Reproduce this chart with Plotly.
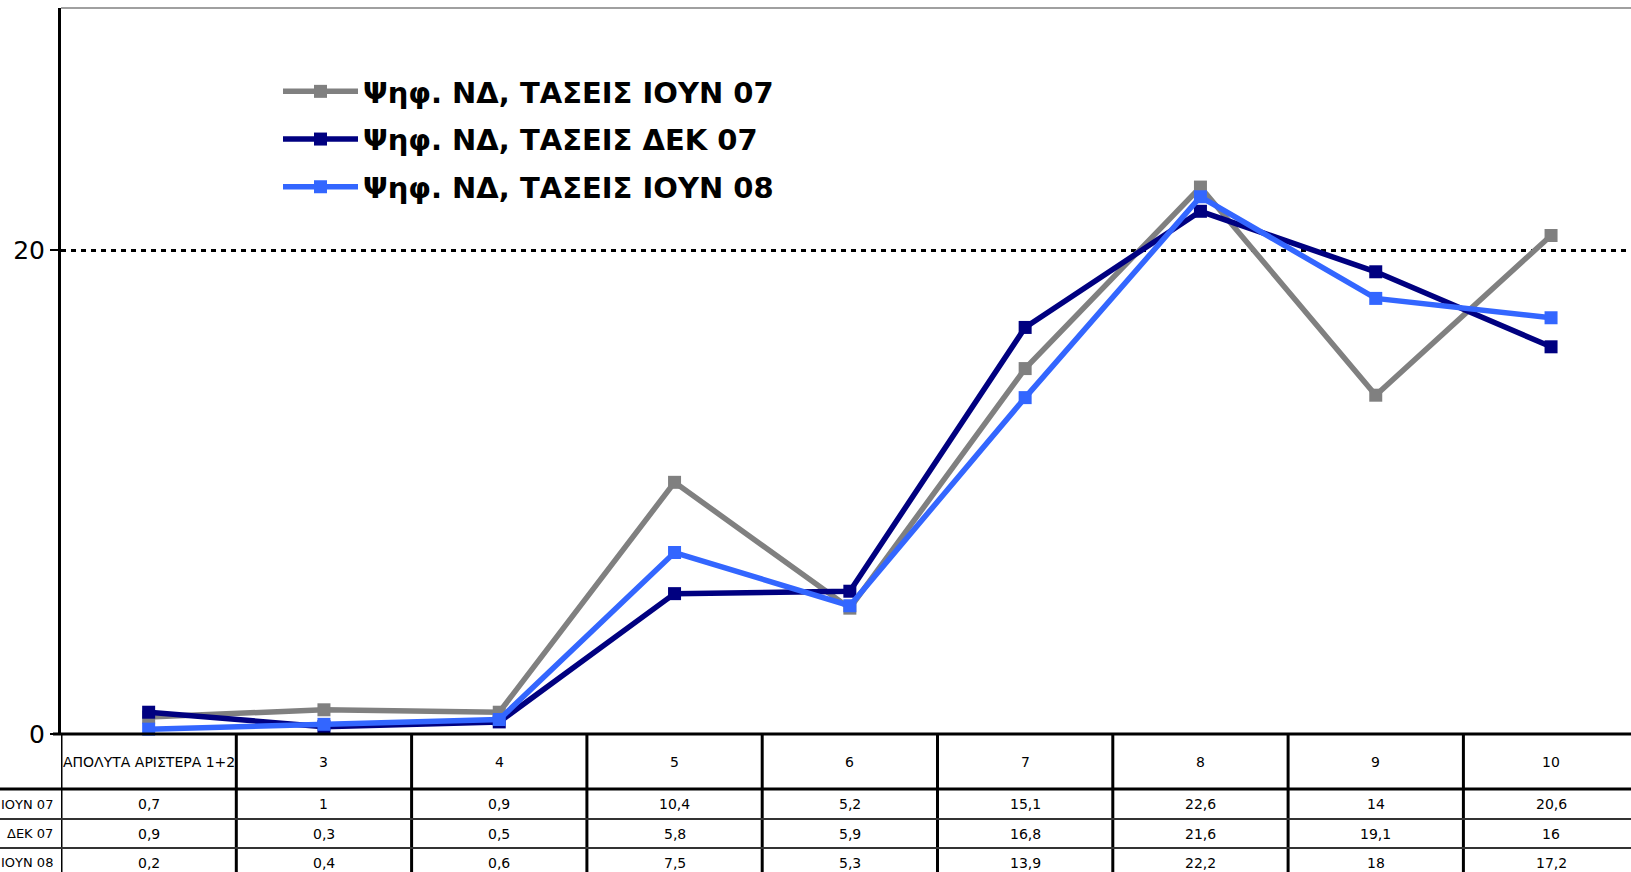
import plotly.graph_objects as go

categories = ["ΑΠΟΛΥΤΑ ΑΡΙΣΤΕΡΑ 1+2", "3", "4", "5", "6", "7", "8", "9", "10"]
series_names = ["Ψηφ. ΝΔ, ΤΑΣΕΙΣ ΙΟΥΝ 07", "Ψηφ. ΝΔ, ΤΑΣΕΙΣ ΔΕΚ 07", "Ψηφ. ΝΔ, ΤΑΣΕΙΣ ΙΟΥΝ 08"]
row_labels = ["ΙΟΥΝ 07", "ΔΕΚ 07", "ΙΟΥΝ 08"]
iun07 = [0.7, 1, 0.9, 10.4, 5.2, 15.1, 22.6, 14, 20.6]
dek07 = [0.9, 0.3, 0.5, 5.8, 5.9, 16.8, 21.6, 19.1, 16]
iun08 = [0.2, 0.4, 0.6, 7.5, 5.3, 13.9, 22.2, 18, 17.2]
colors = ["#808080", "#000080", "#3366FF"]
y_ticks = [0, 20]

series = [iun07, dek07, iun08]
xs = list(range(len(categories)))

W, H = 1631, 872
ML, MT, MB = 61, 8, 138
plot_w = W - ML
plot_h = H - MT - MB
col_w = 175.3
x_right = plot_w / col_w - 0.5

def py(pix):
    return (H - MB - pix) / plot_h

def px(pix):
    return (pix - ML) / plot_w

fig = go.Figure()
for k, (name, vals, c) in enumerate(zip(series_names, series, colors)):
    fig.add_trace(go.Scatter(
        x=xs, y=vals, name=name, mode="lines+markers", legendgroup=f"g{k}",
        line=dict(color=c, width=5.5),
        marker=dict(symbol="square", size=13, color=c),
        cliponaxis=False,
    ))

shapes = []
# top border
shapes.append(dict(type="line", xref="paper", yref="paper", x0=0, x1=1, y0=1, y1=1,
                   line=dict(color="#A0A0A0", width=2)))
# table vertical lines
for i in range(len(categories) + 1):
    shapes.append(dict(type="line", xref="x", yref="paper", x0=i - 0.5, x1=i - 0.5,
                       y0=0, y1=py(H + 10), line=dict(color="black", width=3)))
# table horizontal lines
row_lines = [(789, 3, "black"), (819, 2, "#333333"), (848, 2, "#333333")]
for pix, w, c in row_lines:
    shapes.append(dict(type="line", xref="paper", yref="paper", x0=px(0), x1=1,
                       y0=py(pix), y1=py(pix), line=dict(color=c, width=w)))
# x axis line
shapes.append(dict(type="line", xref="paper", yref="paper", x0=px(53), x1=1, y0=0, y1=0,
                   line=dict(color="black", width=3)))

annotations = []
tfont = dict(family="DejaVu Sans", size=14, color="black")
lfont = dict(family="DejaVu Sans", size=13, color="black")
for i, cat in enumerate(categories):
    annotations.append(dict(x=i, y=py(761.5), xref="x", yref="paper", text=cat,
                            showarrow=False, font=tfont, xanchor="center", yanchor="middle"))
row_centers = [804, 833.5, 862.5]
for lab, vals, rc in zip(row_labels, series, row_centers):
    annotations.append(dict(x=px(55), y=py(rc), xref="paper", yref="paper", text=lab,
                            showarrow=False, font=lfont, xanchor="right", yanchor="middle"))
    for i, v in enumerate(vals):
        annotations.append(dict(x=i, y=py(rc), xref="x", yref="paper",
                                text=f"{v:g}".replace(".", ","),
                                showarrow=False, font=tfont, xanchor="center", yanchor="middle"))

fig.update_layout(
    width=W, height=H,
    margin=dict(l=ML, r=0, t=MT, b=MB),
    plot_bgcolor="white", paper_bgcolor="white",
    showlegend=True,
    legend=dict(x=px(278), y=py(66), xanchor="left", yanchor="top",
                font=dict(family="DejaVu Sans", size=29, color="black", weight="bold"),
                bgcolor="rgba(0,0,0,0)", tracegroupgap=7, itemwidth=75),
    xaxis=dict(range=[-0.5, x_right], showticklabels=False, showgrid=False, zeroline=False,
               showline=False, ticks=""),
    yaxis=dict(range=[0, 30], tickvals=y_ticks, ticktext=[str(t) for t in y_ticks],
               showgrid=True, gridcolor="black", gridwidth=3, griddash="5px,5px",
               zeroline=False, showline=True, linecolor="black", linewidth=3,
               ticks="outside", ticklen=8, tickwidth=2, tickcolor="black",
               tickfont=dict(family="DejaVu Sans", size=25, color="black")),
    shapes=shapes,
    annotations=annotations,
)

fig.write_html("out.html", post_script="document.body.style.margin='0';",
               config={"displayModeBar": False})
